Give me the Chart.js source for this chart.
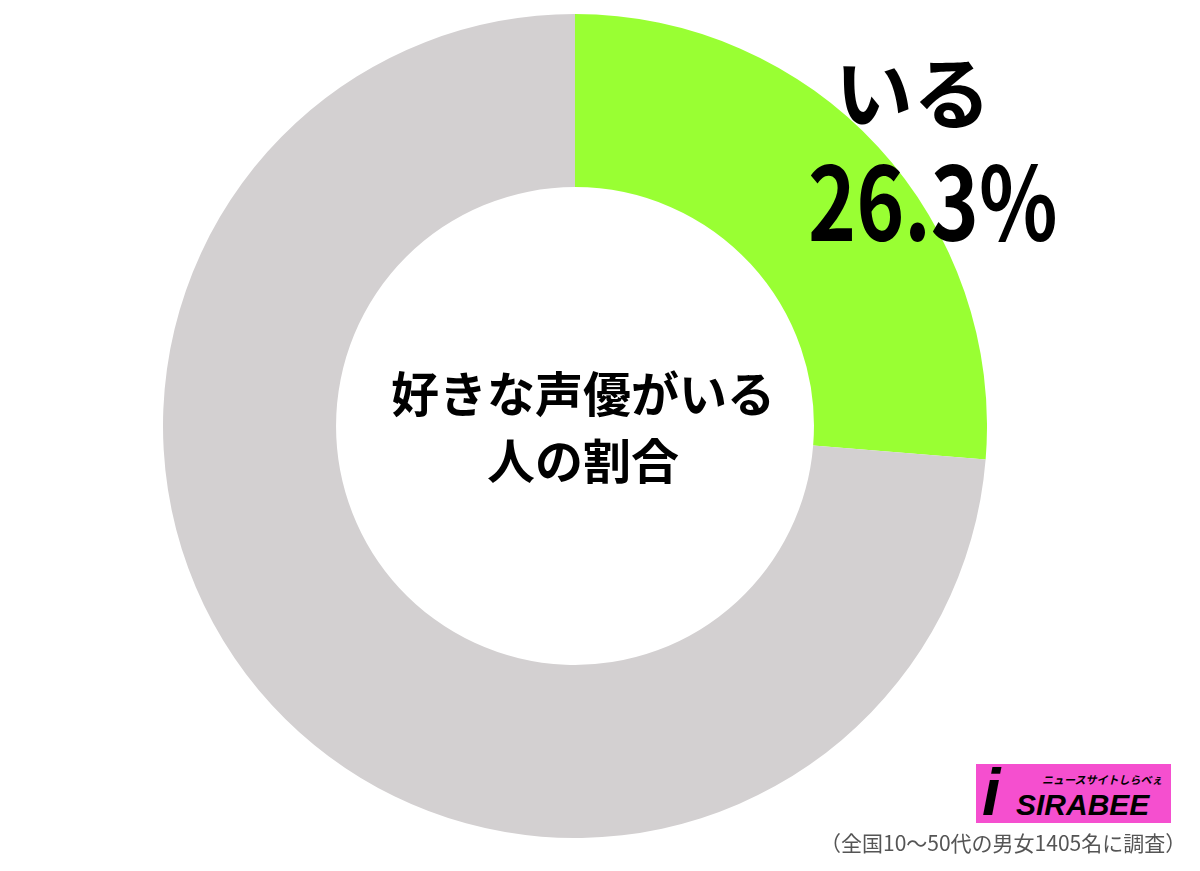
<!DOCTYPE html>
<html lang="ja">
<head>
<meta charset="utf-8">
<script src="https://cdn.jsdelivr.net/npm/chart.js"></script>
<style>
    html, body { margin: 0; padding: 0; background: #fff; }
    body { width: 1200px; height: 871px; position: relative; overflow: hidden; font-family: "Noto Sans CJK JP", "Noto Sans", sans-serif; }
    #wrap { position: absolute; left: 163px; top: 14px; width: 824px; height: 824px; }
    .t { position: absolute; white-space: nowrap; color: #000; font-weight: 700; line-height: 1; }
    #center { left: 383px; top: 358px; width: 400px; text-align: center; font-size: 48px; line-height: 67px; }
    #lab { left: 813px; top: 50px; width: 200px; text-align: center; font-size: 78px; }
    #pct { left: 778px; top: 146px; width: 300px; text-align: center; font-size: 102px; transform: scaleX(0.8); }
    #note { position: absolute; left: 820px; top: 830px; font-size: 21px; color: #555; white-space: nowrap; line-height: 1.2; }
    #logo { position: absolute; left: 976px; top: 764px; width: 195px; height: 59px; background: #f54fcf; overflow: hidden; }
    #logo .i { position: absolute; left: 6px; top: -10px; font: italic 900 66px "Liberation Sans", sans-serif; color: #000; }
    #logo .name { position: absolute; left: 40px; top: 24px; font: italic 700 30px "Liberation Sans", sans-serif; color: #000; }
    #logo .sub { position: absolute; left: 66px; top: 7px; font: italic 700 11px "Noto Sans CJK JP", sans-serif; color: #000; white-space: nowrap; }
</style>
</head>
<body>
<div id="wrap"><canvas id="chart" width="824" height="824"></canvas></div>
<div class="t" id="center">好きな声優がいる<br>人の割合</div>
<div class="t" id="lab"></div>
<div class="t" id="pct"></div>
<div id="logo"><span class="i">i</span><span class="sub">ニュースサイトしらべぇ</span><span class="name">SIRABEE</span></div>
<div id="note">（全国10〜50代の男女1405名に調査）</div>
<script>
// データ
const labels = ['いる', 'いない'];
const values = [26.3, 73.7];
const colors = ['#99ff33', '#d3d0d1'];

// ラベル
document.getElementById('lab').textContent = labels[0];
document.getElementById('pct').textContent = values[0].toFixed(1) + '%';

const ctx = document.getElementById('chart').getContext('2d');
new Chart(ctx, {
    type: 'doughnut',
    data: {
        labels: labels,
        datasets: [{
            data: values,
            backgroundColor: colors,
            borderWidth: 0,
        }],
    },
    options: {
        responsive: false,
        animation: false,
        cutout: '58%',
        layout: { padding: 0 },
        plugins: {
            legend: { display: false },
            tooltip: { enabled: false },
        },
    },
});
</script>
</body>
</html>
